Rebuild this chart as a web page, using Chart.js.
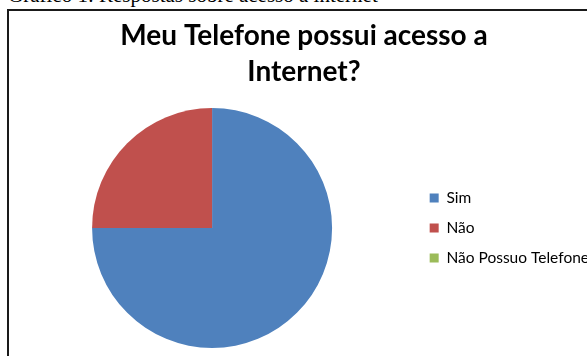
<!DOCTYPE html>
<html>
<head>
<meta charset="utf-8">
<script src="https://cdn.jsdelivr.net/npm/chart.js@4.4.1/dist/chart.umd.min.js"></script>
<style>
  html, body { margin: 0; padding: 0; background: #fff; overflow: hidden; width: 587px; height: 356px; }
  #caption { position: absolute; left: 8px; top: -17px; font-family: "Liberation Serif", "DejaVu Serif", serif; font-size: 21px; color: #000; white-space: nowrap; }
  #frame { position: absolute; left: 7px; top: 9px; width: 640px; height: 400px; border: 2px solid #1a1a1a; }
  #wrap { position: absolute; left: 9px; top: 11px; width: 590px; height: 345px; }
</style>
</head>
<body>
<div id="caption">Gráfico 1: Respostas sobre acesso à internet</div>
<div id="frame"></div>
<div id="wrap"><canvas id="pieChart"></canvas></div>
<script>
// respostas (leitura aproximada do gráfico)
const categorias = ["Sim", "Não", "Não Possuo Telefone"];
const valores = [75, 25, 0];
const cores = ["#4F81BD", "#C0504D", "#9BBB59"];
const titulo = ["Meu Telefone possui acesso a", "Internet?"];

new Chart(document.getElementById("pieChart"), {
    type: 'pie',
    data: {
        labels: categorias,
        datasets: [{
            data: valores,
            backgroundColor: cores,
            borderWidth: 0
        }]
    },
    options: {
        responsive: true,
        maintainAspectRatio: false,
        animation: false,
        layout: { padding: { bottom: 8 } },
        plugins: {
            tooltip: { enabled: false },
            title: {
                display: true,
                text: titulo,
                color: '#000',
                font: { family: 'Lato', weight: 'bold', size: 28, lineHeight: 1.286 },
                padding: { top: 7, bottom: 18 }
            },
            legend: {
                position: 'right',
                fullSize: false,
                labels: {
                    color: '#000',
                    boxWidth: 9,
                    boxHeight: 9,
                    padding: 14.5,
                    font: { family: 'Lato', size: 15.5 }
                }
            }
        }
    }
});
</script>
</body>
</html>
